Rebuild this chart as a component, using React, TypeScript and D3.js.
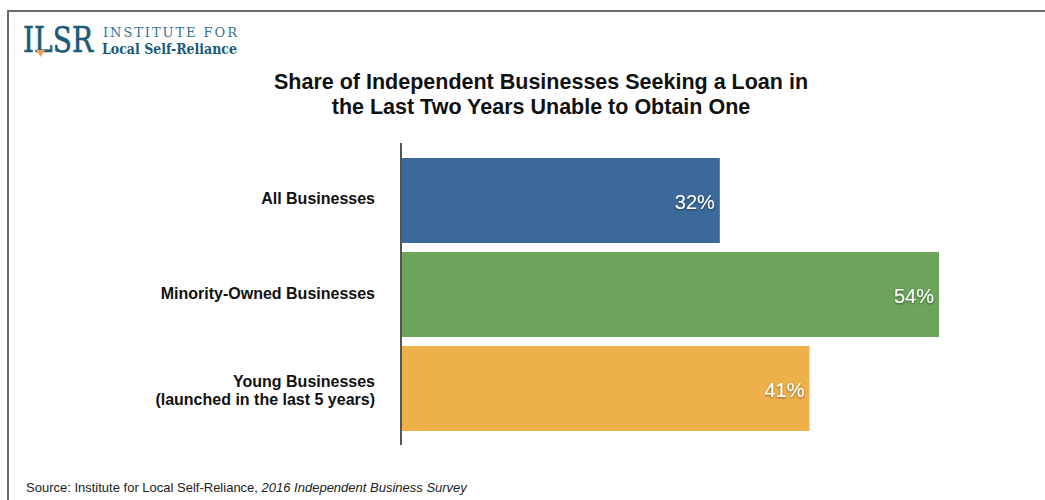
import React from "react";
import * as d3 from "d3";

const categories: string[][] = [
  ["All Businesses"],
  ["Minority-Owned Businesses"],
  ["Young Businesses", "(launched in the last 5 years)"],
];
const values: number[] = [32, 54, 41];
const colors: string[] = ["#3b6a9a", "#6ba45a", "#edb04b"];
const titleLines: string[] = [
  "Share of Independent Businesses Seeking a Loan in",
  "the Last Two Years Unable to Obtain One",
];

const W = 1045;
const H = 500;
const FONT = "'Liberation Sans', Arial, Helvetica, sans-serif";
const SERIF = "'DejaVu Serif', 'Liberation Serif', Georgia, serif";

export default function App() {
  const x = d3.scaleLinear().domain([0, 54]).range([401, 939]);
  const y = d3
    .scaleBand<number>()
    .domain(d3.range(values.length))
    .range([158, 431])
    .paddingInner(0.096)
    .paddingOuter(0);

  return (
    <svg
      width={W}
      height={H}
      style={{ position: "absolute", left: 0, top: 0, background: "#fff" }}
    >
      <defs>
        <filter id="ts" x="-20%" y="-30%" width="140%" height="160%">
          <feDropShadow dx="0" dy="1" stdDeviation="1.3" floodColor="#000" floodOpacity="0.5" />
        </filter>
      </defs>
      <rect x={0} y={0} width={W} height={H} fill="#fff" />
      {/* frame */}
      <line x1={8} x2={W} y1={11} y2={11} stroke="#6b6b6b" strokeWidth={2} />
      <line x1={8} x2={8} y1={10} y2={H} stroke="#6b6b6b" strokeWidth={2} />

      {/* logo */}
      <text x={23} y={52} fontFamily={SERIF} fontSize={36} fill="#1d5a78" stroke="#1d5a78" strokeWidth={0.6} textLength={70} lengthAdjust="spacingAndGlyphs">
        ILSR
      </text>
      <path d="M36,50 L45,50 L40.5,57 Z" fill="#f0a050" />
      <text x={103} y={37} fontFamily={SERIF} fontSize={13} fill="#3a7290" textLength={134} lengthAdjust="spacing">
        INSTITUTE FOR
      </text>
      <text x={102} y={54} fontFamily={SERIF} fontSize={15} fontWeight="bold" fill="#1d5a78" textLength={135} lengthAdjust="spacingAndGlyphs">
        Local Self-Reliance
      </text>

      {/* title */}
      {titleLines.map((t, i) => (
        <text
          key={i}
          x={541}
          y={89 + i * 25}
          textAnchor="middle"
          fontFamily={FONT}
          fontWeight="bold"
          fontSize={21.5}
          fill="#111"
        >
          {t}
        </text>
      ))}

      {/* bars */}
      {values.map((v, i) => {
        const cy = y(i)! + y.bandwidth() / 2;
        const n = categories[i].length;
        return (
          <g key={i}>
            <rect
              x={x(0)}
              y={y(i)!}
              width={x(v) - x(0)}
              height={y.bandwidth()}
              fill={colors[i]}
            />
            <text
              x={x(v) - 5}
              y={cy + 8.5}
              textAnchor="end"
              fontFamily={FONT}
              fontSize={20}
              fill="#fff"
              filter="url(#ts)"
            >
              {v}%
            </text>
            {categories[i].map((line, j) => (
              <text
                key={j}
                x={375}
                y={cy + 4 - (n - 1) * 6 + j * 18}
                textAnchor="end"
                fontFamily={FONT}
                fontWeight="bold"
                fontSize={16}
                fill="#111"
              >
                {line}
              </text>
            ))}
          </g>
        );
      })}

      {/* axis line */}
      <line x1={401} x2={401} y1={143} y2={445} stroke="#555" strokeWidth={2} />

      {/* source */}
      <text x={26} y={492} fontFamily={FONT} fontSize={13} fill="#222">
        Source: Institute for Local Self-Reliance,{" "}
        <tspan fontStyle="italic">2016 Independent Business Survey</tspan>
      </text>
    </svg>
  );
}
